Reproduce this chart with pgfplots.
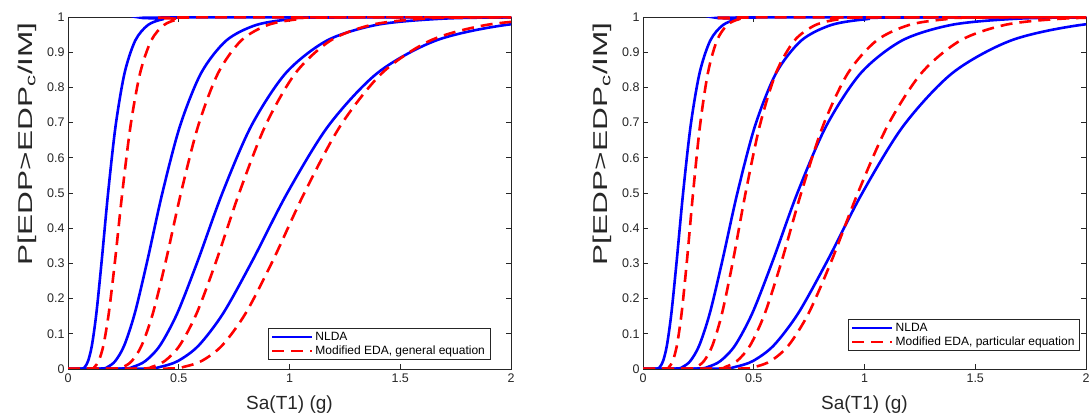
\documentclass[border=0pt]{standalone}
\usepackage{fontspec}
\setmainfont{Liberation Sans}
\usepackage{graphicx}
\usepackage{pgfplots}
\usepackage{pgfplotstable}
\pgfplotsset{compat=1.18}

\definecolor{axgray}{rgb}{0.15,0.15,0.15}

% NLDA fragility curves (x = Sa(T1) for each curve, y = probability)
\pgfplotstableread{
y       b1      b2      b3      b4
0       0       0       0       0
0.0013  0.0643  0.1513  0.2476  0.3516
0.0062  0.0764  0.1798  0.2942  0.4179
0.0228  0.0908  0.2137  0.3496  0.4966
0.0668  0.1079  0.2539  0.4154  0.5900
0.1587  0.1282  0.3017  0.4936  0.7011
0.3085  0.1523  0.3585  0.5866  0.8332
0.5     0.1810  0.4260  0.6970  0.9900
0.6915  0.2151  0.5062  0.8282  1.1764
0.8413  0.2556  0.6015  0.9842  1.3979
0.9332  0.3037  0.7148  1.1695  1.6611
0.9772  0.3609  0.8493  1.3896  1.9738
0.9938  0.4288  1.0092  1.6513  2.3454
0.9987  0.5095  1.1992  1.9621  2.7869
1       3       3       3       3
}\nlda

% modified EDA, general equation
\pgfplotstableread{
y       r1      r2      r3      r4
0       0       0       0       0
0.0013  0.1042  0.2169  0.3288  0.4538
0.0062  0.1201  0.2501  0.3791  0.5233
0.0228  0.1385  0.2884  0.4371  0.6034
0.0668  0.1598  0.3326  0.5041  0.6958
0.1587  0.1842  0.3835  0.5813  0.8024
0.3085  0.2125  0.4423  0.6703  0.9253
0.5     0.2450  0.5100  0.7730  1.0670
0.6915  0.2825  0.5881  0.8913  1.2304
0.8413  0.3258  0.6782  1.0279  1.4189
0.9332  0.3757  0.7820  1.1853  1.6361
0.9772  0.4332  0.9018  1.3669  1.8868
0.9938  0.4996  1.0399  1.5761  2.1756
0.9987  0.5761  1.1992  1.8176  2.5089
1       3       3       3       3
}\edagen

% modified EDA, particular equation
\pgfplotstableread{
y       r1      r2      r3      r4
0       0       0       0       0
0.0013  0.1036  0.2122  0.3273  0.4446
0.0062  0.1180  0.2417  0.3727  0.5063
0.0228  0.1344  0.2753  0.4245  0.5767
0.0668  0.1530  0.3135  0.4835  0.6568
0.1587  0.1743  0.3570  0.5506  0.7480
0.3085  0.1985  0.4066  0.6270  0.8518
0.5     0.2260  0.4630  0.7140  0.9700
0.6915  0.2574  0.5273  0.8131  1.1046
0.8413  0.2931  0.6005  0.9260  1.2580
0.9332  0.3338  0.6839  1.0546  1.4327
0.9772  0.3801  0.7788  1.2009  1.6315
0.9938  0.4329  0.8869  1.3677  1.8580
0.9987  0.4930  1.0100  1.5576  2.1161
1       3       3       3       3
}\edapar

\tikzset{
  nlda/.style={blue, line width=2.6pt, smooth},
  eda/.style={red, line width=2.6pt, dash pattern=on 12pt off 7pt, smooth},
}

\pgfplotsset{
  frag/.style={
    width=443pt, height=352pt, scale only axis,
    xmin=0, xmax=2, ymin=0, ymax=1,
    xtick={0,0.5,1,1.5,2},
    ytick={0,0.1,0.2,0.3,0.4,0.5,0.6,0.7,0.8,0.9,1},
    tick align=inside, major tick length=5pt,
    every tick/.style={axgray, line width=0.6pt},
    axis line style={axgray, line width=0.7pt},
    tick label style={font=\fontsize{12.5}{14}\selectfont, text=axgray},
    /pgf/number format/assume math mode=true,
    xticklabel style={yshift=-1.5pt},
    xlabel={Sa(T1) (g)},
    xlabel style={font=\fontsize{19}{22}\selectfont, text=axgray,
      at={(rel axis cs:0.5,-0.1023)}, anchor=center},
    ylabel={\scalebox{1.58}[1]{P[EDP>EDP\textsubscript{c}/IM]}},
    ylabel style={font=\fontsize{20}{24}\selectfont, text=axgray,
      at={(rel axis cs:-0.0926,0.64)}, anchor=center},
    legend cell align=left,
    legend image code/.code={\draw[##1] (0pt,0pt) -- (40pt,0pt);},
    legend style={anchor=south east, draw=axgray, line width=0.6pt,
      font=\fontsize{12}{14}\selectfont, inner xsep=3pt, inner ysep=1.5pt,
      row sep=0pt},
  },
}

\begin{document}
\begin{tikzpicture}
\begin{axis}[frag, at={(68pt,48pt)}, anchor=south west,
  legend style={at={(rel axis cs:0.953,0.026)}}]
  \addplot[nlda] table[x=b1, y=y] {\nlda};
  \addlegendentry{NLDA}
  \addplot[nlda, forget plot] table[x=b2, y=y] {\nlda};
  \addplot[nlda, forget plot] table[x=b3, y=y] {\nlda};
  \addplot[nlda, forget plot] table[x=b4, y=y] {\nlda};
  \addplot[eda] table[x=r1, y=y] {\edagen};
  \addlegendentry{Modified EDA, general equation}
  \addplot[eda, forget plot] table[x=r2, y=y] {\edagen};
  \addplot[eda, forget plot] table[x=r3, y=y] {\edagen};
  \addplot[eda, forget plot] table[x=r4, y=y] {\edagen};
\end{axis}

\begin{axis}[frag, at={(643pt,48pt)}, anchor=south west,
  legend style={at={(rel axis cs:0.986,0.051)}}]
  \addplot[nlda] table[x=b1, y=y] {\nlda};
  \addlegendentry{NLDA}
  \addplot[nlda, forget plot] table[x=b2, y=y] {\nlda};
  \addplot[nlda, forget plot] table[x=b3, y=y] {\nlda};
  \addplot[nlda, forget plot] table[x=b4, y=y] {\nlda};
  \addplot[eda] table[x=r1, y=y] {\edapar};
  \addlegendentry{Modified EDA, particular equation}
  \addplot[eda, forget plot] table[x=r2, y=y] {\edapar};
  \addplot[eda, forget plot] table[x=r3, y=y] {\edapar};
  \addplot[eda, forget plot] table[x=r4, y=y] {\edapar};
\end{axis}

\pgfresetboundingbox
\path[use as bounding box] (0pt,0pt) rectangle (1089pt,417pt);
\end{tikzpicture}
\end{document}
